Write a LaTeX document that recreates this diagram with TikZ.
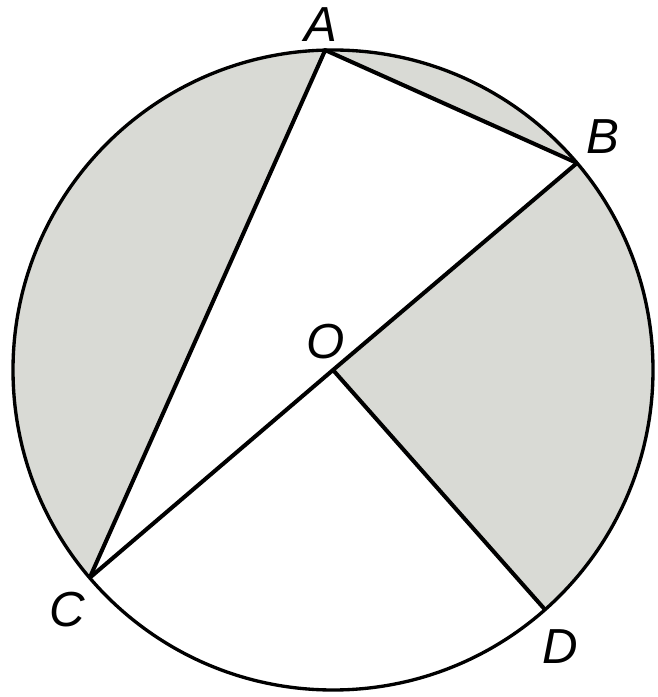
\documentclass[tikz,border=0pt]{standalone}
\usepackage{fontspec}
\setmainfont{Liberation Sans}
\usetikzlibrary{calc,positioning}
\definecolor{ShadeGray}{HTML}{D9DAD5}

\tikzset{ptlabel/.style={font=\fontsize{28}{32}\selectfont\itshape,inner sep=0pt}}

\begin{document}
\begin{tikzpicture}[x=0.02cm,y=0.02cm]
  \useasboundingbox (0,0) rectangle (658,697);
  \coordinate (O) at (333,327);
  \coordinate (A) at ($(O)+(91.4:320)$);
  \coordinate (B) at ($(O)+(40.3:320)$);
  \coordinate (C) at ($(O)+(220.5:320)$);
  \coordinate (D) at ($(O)+(-48.5:320)$);
  \fill[ShadeGray] (A) arc[start angle=91.4,end angle=220.5,radius=320] -- cycle;
  \fill[ShadeGray] (B) arc[start angle=40.3,end angle=91.4,radius=320] -- cycle;
  \fill[ShadeGray] (O) -- (B) arc[start angle=40.3,end angle=-48.5,radius=320] -- cycle;
  \draw[line width=1.9pt] (O) circle[radius=320];
  \draw[line width=2.3pt,line join=round] (C) -- (A) -- (B);
  \draw[line width=2.3pt] (B) -- (O) -- (C);
  \draw[line width=2.3pt] (O) -- (D);
  \node[ptlabel] (labA) at (321,672) {A};
  \node[ptlabel] (labB) at (603,560) {B};
  \node[ptlabel] (labO) at (326,355) {O};
  \node[ptlabel] (labC) at (67,87) {C};
  \node[ptlabel] (labD) at (560,50) {D};
\end{tikzpicture}
\end{document}
